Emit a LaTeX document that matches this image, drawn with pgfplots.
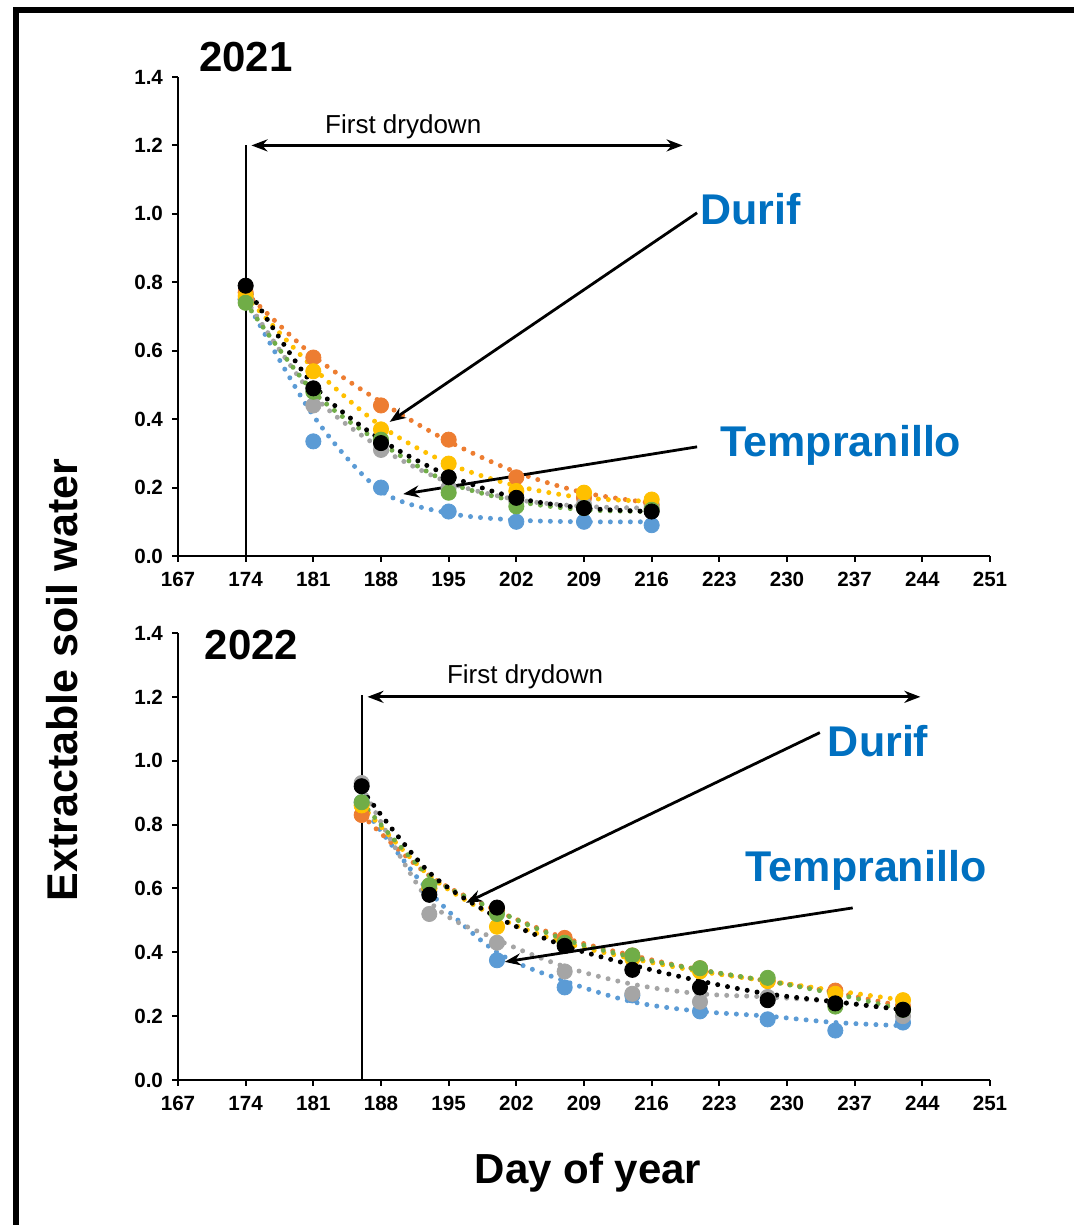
\documentclass[border=0pt]{standalone}
\usepackage{fontspec}
\setmainfont{Liberation Sans}
\usepackage{pgfplots}
\usepackage{pgfplotstable}
\pgfplotsset{compat=1.18}
\usetikzlibrary{arrows.meta}

\definecolor{cOr}{RGB}{237,125,49}
\definecolor{cYe}{RGB}{255,192,0}
\definecolor{cGr}{RGB}{165,165,165}
\definecolor{cGn}{RGB}{112,173,71}
\definecolor{cBl}{RGB}{91,155,213}
\definecolor{cLab}{RGB}{0,112,192}

% 2021 observations
\pgfplotstableread{
day orange yellow gray green black blue
174 0.77 0.76 0.75 0.74 0.79 0.75
181 0.58 0.54 0.44 0.48 0.49 0.335
188 0.44 0.37 0.31 0.34 0.33 0.20
195 0.34 0.27 0.20 0.185 0.23 0.13
202 0.23 0.19 0.16 0.145 0.17 0.10
209 0.17 0.185 0.15 0.14 0.14 0.10
216 0.15 0.165 0.14 0.135 0.13 0.09
}\dataA
% 2021 trend lines
\pgfplotstableread{
day orange yellow gray green black blue
174 0.77 0.76 0.75 0.74 0.79 0.75
181 0.585 0.55 0.47 0.48 0.50 0.41
188 0.45 0.38 0.315 0.33 0.34 0.19
195 0.335 0.27 0.215 0.215 0.235 0.125
202 0.245 0.205 0.165 0.16 0.17 0.105
209 0.185 0.17 0.145 0.135 0.14 0.10
216 0.155 0.16 0.14 0.13 0.13 0.10
}\trendA
% 2022 observations
\pgfplotstableread{
day orange yellow gray green black blue
186 0.83 0.86 0.93 0.87 0.92 0.87
193 0.60 0.60 0.52 0.61 0.58 0.59
200 0.53 0.48 0.43 0.52 0.54 0.375
207 0.445 0.43 0.34 0.43 0.42 0.29
214 0.39 0.38 0.27 0.39 0.345 0.265
221 0.35 0.34 0.245 0.35 0.29 0.215
228 0.31 0.31 0.26 0.32 0.25 0.19
235 0.28 0.27 0.24 0.23 0.24 0.155
242 0.23 0.25 0.20 0.22 0.22 0.18
}\dataB
% 2022 trend lines
\pgfplotstableread{
day orange yellow gray green black blue
186 0.83 0.86 0.92 0.87 0.91 0.86
193 0.64 0.64 0.56 0.64 0.65 0.59
200 0.53 0.51 0.44 0.53 0.51 0.40
207 0.445 0.43 0.355 0.44 0.42 0.31
214 0.39 0.38 0.30 0.385 0.36 0.245
221 0.345 0.34 0.27 0.345 0.31 0.215
228 0.31 0.31 0.26 0.31 0.27 0.20
235 0.275 0.28 0.245 0.27 0.245 0.18
242 0.23 0.25 0.22 0.22 0.22 0.17
}\trendB

\pgfplotsset{
  myaxis/.style={
    scale only axis, width=406pt,
    xmin=167, xmax=251, ymin=0, ymax=1.4,
    axis x line*=bottom, axis y line*=left,
    xtick={167,174,...,251},
    ytick={0,0.2,0.4,0.6,0.8,1.0,1.2,1.4},
    tick align=outside, major tick length=3pt,
    axis line style={line width=1pt},
    tick style={line width=1pt, black},
    ticklabel style={font=\fontsize{10.3}{12}\selectfont\bfseries},
    xticklabel style={yshift=-1.5pt},
    yticklabel style={xshift=-1pt, /pgf/number format/.cd, fixed, fixed zerofill, precision=1},
    /pgf/number format/assume math mode=true,
    clip=false,
  },
  pts/.style={only marks, mark=*, mark size=3.8pt, color=#1, mark options={draw=#1, fill=#1}},
  trend/.style={no marks, smooth, color=#1, line width=2.5pt, line cap=round, dash pattern=on 0pt off 5pt},
}

\begin{document}
\begin{tikzpicture}
\useasboundingbox (0,0) rectangle (537pt,612.5pt);
\draw[line width=3pt] (7.75pt,0) -- (7.75pt,607.5pt) -- (537pt,607.5pt);

\node[font=\fontsize{21}{24}\selectfont\bfseries] at (123pt,584pt) {2021};
\node[font=\fontsize{21}{24}\selectfont\bfseries] at (125.75pt,290pt) {2022};
\node[rotate=90, font=\fontsize{21.5}{24}\selectfont\bfseries] at (31pt,272.5pt) {Extractable soil water};
\node[font=\fontsize{21}{24}\selectfont\bfseries] at (294pt,26pt) {Day of year};

% ---- 2021 ----
\begin{axis}[myaxis, at={(89pt,334.5pt)}, anchor=south west, height=239.5pt]
\addplot[pts=cBl] table[x=day, y=blue] {\dataA};
\addplot[pts=cOr] table[x=day, y=orange] {\dataA};
\addplot[pts=cGr] table[x=day, y=gray] {\dataA};
\addplot[pts=cYe] table[x=day, y=yellow] {\dataA};
\addplot[pts=cGn] table[x=day, y=green] {\dataA};
\addplot[pts=black] table[x=day, y=black] {\dataA};
\addplot[trend=cBl] table[x=day, y=blue] {\trendA};
\addplot[trend=cOr] table[x=day, y=orange] {\trendA};
\addplot[trend=cGr] table[x=day, y=gray] {\trendA};
\addplot[trend=cYe] table[x=day, y=yellow] {\trendA};
\addplot[trend=cGn] table[x=day, y=green] {\trendA};
\addplot[trend=black] table[x=day, y=black] {\trendA};

\draw[line width=1pt] (axis cs:174,0) -- (axis cs:174,1.2);
\draw[line width=1.4pt, {Stealth[length=8pt,width=6pt]}-{Stealth[length=8pt,width=6pt]}] (axis cs:174.6,1.2) -- (axis cs:219.2,1.2);
\node[font=\fontsize{13}{15}\selectfont] at (axis cs:190.3,1.254) {First drydown};

\draw[line width=1.4pt, -{Stealth[length=8pt,width=6pt]}] (axis cs:220.7,1.003) -- (axis cs:188.9,0.392);
\draw[line width=1.4pt, -{Stealth[length=8pt,width=6pt]}] (axis cs:220.7,0.319) -- (axis cs:190.3,0.181);
\node[anchor=west, inner sep=0pt, text=cLab, font=\fontsize{21.5}{24}\selectfont\bfseries] at (axis cs:221.0,1.015) {Durif};
\node[anchor=west, inner sep=0pt, text=cLab, font=\fontsize{21.5}{24}\selectfont\bfseries] at (axis cs:223.1,0.322) {Tempranillo};
\end{axis}

% ---- 2022 ----
\begin{axis}[myaxis, at={(89pt,72.5pt)}, anchor=south west, height=223.5pt]
\addplot[pts=cBl] table[x=day, y=blue] {\dataB};
\addplot[pts=cOr] table[x=day, y=orange] {\dataB};
\addplot[pts=cGr] table[x=day, y=gray] {\dataB};
\addplot[pts=cYe] table[x=day, y=yellow] {\dataB};
\addplot[pts=cGn] table[x=day, y=green] {\dataB};
\addplot[pts=black] table[x=day, y=black] {\dataB};
\addplot[trend=cBl] table[x=day, y=blue] {\trendB};
\addplot[trend=cOr] table[x=day, y=orange] {\trendB};
\addplot[trend=cGr] table[x=day, y=gray] {\trendB};
\addplot[trend=cYe] table[x=day, y=yellow] {\trendB};
\addplot[trend=cGn] table[x=day, y=green] {\trendB};
\addplot[trend=black] table[x=day, y=black] {\trendB};

\draw[line width=1pt] (axis cs:186,0) -- (axis cs:186,1.207);
\draw[line width=1.4pt, {Stealth[length=8pt,width=6pt]}-{Stealth[length=8pt,width=6pt]}] (axis cs:186.6,1.2) -- (axis cs:243.8,1.2);
\node[font=\fontsize{13}{15}\selectfont] at (axis cs:202.9,1.263) {First drydown};

\draw[line width=1.4pt, -{Stealth[length=8pt,width=6pt]}] (axis cs:233.4,1.088) -- (axis cs:196.8,0.555);
\draw[line width=1.4pt, -{Stealth[length=8pt,width=6pt]}] (axis cs:236.8,0.539) -- (axis cs:200.8,0.37);
\node[anchor=west, inner sep=0pt, text=cLab, font=\fontsize{21.5}{24}\selectfont\bfseries] at (axis cs:234.2,1.06) {Durif};
\node[anchor=west, inner sep=0pt, text=cLab, font=\fontsize{21.5}{24}\selectfont\bfseries] at (axis cs:225.7,0.658) {Tempranillo};
\end{axis}
\end{tikzpicture}
\end{document}
